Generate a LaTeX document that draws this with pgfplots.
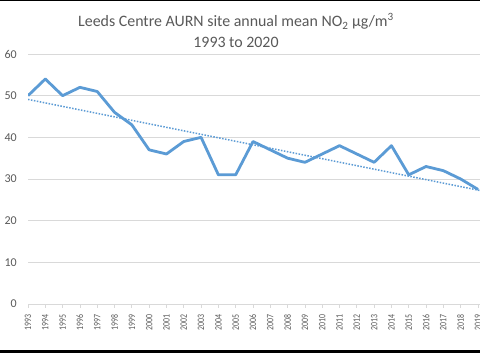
\documentclass[border=0pt]{standalone}
\usepackage{fontspec}
\setmainfont{Carlito}
\usepackage{graphicx}
\usepackage{pgfplots}
\pgfplotsset{compat=1.18}
\definecolor{lineblue}{HTML}{5B9BD5}
\definecolor{txtgray}{HTML}{595959}
\definecolor{gridgray}{HTML}{D9D9D9}
\begin{document}
\begin{tikzpicture}
\clip (0pt,0pt) rectangle (480pt,356pt);
\fill[white] (0pt,0pt) rectangle (480pt,356pt);
\fill[black] (0pt,355pt) rectangle (480pt,356pt);
\fill[black] (0pt,2.5pt) rectangle (480pt,5.5pt);
\node[font=\fontsize{15.9}{20.5}\selectfont, text=txtgray, align=center] at (236pt,325.8pt)
  {Leeds Centre AURN site annual mean NO\textsubscript{2} µg/m\textsuperscript{3}\\1993 to 2020};
\begin{axis}[
  at={(28pt,52pt)}, anchor=south west,
  scale only axis, width=467.3pt, height=250pt,
  xmin=1993, xmax=2020, ymin=0, ymax=60,
  ytick={0,10,...,60}, xtick={1993,...,2019},
  axis x line*=bottom, axis y line*=left,
  axis line style={-},
  y axis line style={draw=none},
  x axis line style={gridgray, line width=0.75pt},
  ymajorgrids, grid style={gridgray, line width=0.75pt},
  ytick style={draw=none},
  xtick style={gridgray, line width=0.75pt},
  tick align=outside, major tick length=4pt,
  /pgf/number format/assume math mode=true,
  yticklabel style={font=\fontsize{12}{12}\selectfont, text=txtgray, anchor=east, inner sep=0pt, xshift=-7pt},
  xticklabel={\scalebox{0.8}[1]{\pgfmathprintnumber[fixed,precision=0,1000 sep={}]{\tick}}},
  xticklabel style={yshift=-6pt, rotate=90, anchor=east, inner sep=0pt, font=\fontsize{9.8}{9.8}\selectfont, text=txtgray},
]
\addplot[lineblue, line width=2.8pt, line join=round, mark=none] coordinates {
(1993,50) (1994,54) (1995,50) (1996,52) (1997,51) (1998,46) (1999,43)
(2000,37) (2001,36) (2002,39) (2003,40) (2004,31) (2005,31) (2006,39)
(2007,37) (2008,35) (2009,34) (2010,36) (2011,38) (2012,36) (2013,34)
(2014,38) (2015,31) (2016,33) (2017,32) (2018,30) (2019,27.5)
};
\addplot[lineblue, line width=1.5pt, dash pattern=on 1.5pt off 1.5pt, mark=none] coordinates {
(1993,49.1) (2020,26.5)
};
\end{axis}
\end{tikzpicture}
\end{document}
